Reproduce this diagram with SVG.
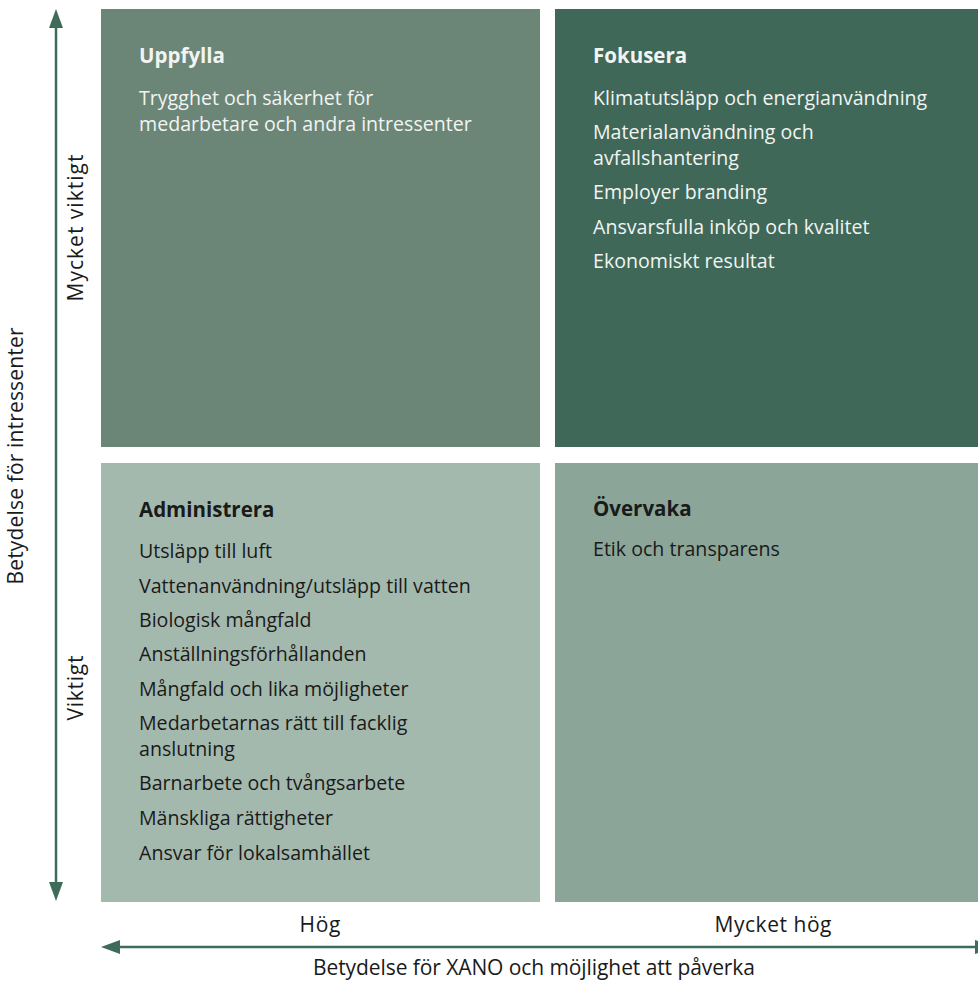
<svg xmlns="http://www.w3.org/2000/svg" width="978" height="981" viewBox="0 0 978 981">
<style>
  text { font-family: "Open Sans", "Noto Sans", "Liberation Sans", sans-serif; font-size: 19.6px; }
  .h { font-weight: bold; font-size: 20.5px; }
  .lt { fill: #f2f4f2; }
  .dk { fill: #1a1a1a; }
  .ax { fill: #1a1a1a; font-size: 21px; }
  .axis { stroke: #3e6b5a; stroke-width: 2.5; fill: none; }
</style>
<defs>
  <marker id="arr" markerUnits="userSpaceOnUse" markerWidth="20" markerHeight="15" refX="8" refY="7" orient="auto-start-reverse">
    <path d="M0,0 L19,7 L0,14 Z" fill="#3e6b5a"/>
  </marker>
</defs>

<g id="q-uppfylla">
  <rect x="101" y="9" width="439" height="438" fill="#6b8677"/>
  <text class="h lt" x="139" y="63">Uppfylla</text>
  <text class="lt" x="139" y="105">Trygghet och säkerhet för</text>
  <text class="lt" x="139" y="131">medarbetare och andra intressenter</text>
</g>

<g id="q-fokusera">
  <rect x="555" y="9" width="423" height="438" fill="#3f6858"/>
  <text class="h lt" x="593" y="63">Fokusera</text>
  <text class="lt" x="593" y="105">Klimatutsläpp och energianvändning</text>
  <text class="lt" x="593" y="139">Materialanvändning och</text>
  <text class="lt" x="593" y="165">avfallshantering</text>
  <text class="lt" x="593" y="199">Employer branding</text>
  <text class="lt" x="593" y="234">Ansvarsfulla inköp och kvalitet</text>
  <text class="lt" x="593" y="268">Ekonomiskt resultat</text>
</g>

<g id="q-administrera">
  <rect x="101" y="463" width="439" height="439" fill="#a4b9ad"/>
  <text class="h dk" x="139" y="517">Administrera</text>
  <text class="dk" x="139" y="558">Utsläpp till luft</text>
  <text class="dk" x="139" y="593">Vattenanvändning/utsläpp till vatten</text>
  <text class="dk" x="139" y="627">Biologisk mångfald</text>
  <text class="dk" x="139" y="661">Anställningsförhållanden</text>
  <text class="dk" x="139" y="696">Mångfald och lika möjligheter</text>
  <text class="dk" x="139" y="730">Medarbetarnas rätt till facklig</text>
  <text class="dk" x="139" y="756">anslutning</text>
  <text class="dk" x="139" y="790">Barnarbete och tvångsarbete</text>
  <text class="dk" x="139" y="825">Mänskliga rättigheter</text>
  <text class="dk" x="139" y="860">Ansvar för lokalsamhället</text>
</g>

<g id="q-overvaka">
  <rect x="555" y="463" width="423" height="439" fill="#8ba699"/>
  <text class="h dk" x="593" y="516">Övervaka</text>
  <text class="dk" x="593" y="556">Etik och transparens</text>
</g>

<g id="connectors">
  <line class="axis" x1="56" y1="890" x2="56" y2="20" marker-start="url(#arr)" marker-end="url(#arr)"/>
  <line class="axis" x1="983" y1="947" x2="112" y2="947" marker-start="url(#arr)" marker-end="url(#arr)"/>
</g>

<g id="axis-labels">
  <text class="ax" text-anchor="middle" textLength="147" transform="translate(83,228) rotate(-90)">Mycket viktigt</text>
  <text class="ax" text-anchor="middle" textLength="65" transform="translate(83,688) rotate(-90)">Viktigt</text>
  <text class="ax" text-anchor="middle" textLength="257" transform="translate(23,456) rotate(-90)">Betydelse för intressenter</text>
  <text class="ax" text-anchor="middle" textLength="41" x="320" y="932">Hög</text>
  <text class="ax" text-anchor="middle" textLength="117" x="773" y="932">Mycket hög</text>
  <text class="ax" text-anchor="middle" textLength="442" x="534" y="975">Betydelse för XANO och möjlighet att påverka</text>
</g>
</svg>
